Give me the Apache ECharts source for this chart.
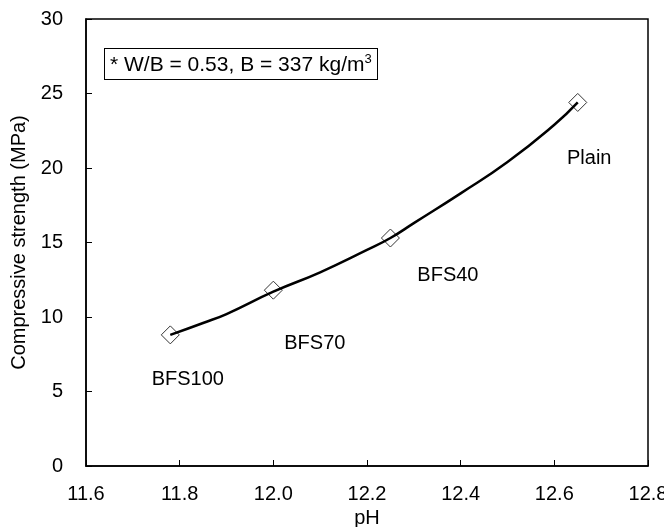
<!DOCTYPE html>
<html>
<head>
<meta charset="utf-8">
<script src="https://cdn.jsdelivr.net/npm/echarts@6/dist/echarts.min.js"></script>
<style>
  html, body { margin: 0; padding: 0; background: #fff; }
  #main { width: 664px; height: 527px; }
</style>
</head>
<body>
<div id="main"></div>
<script>
// measured mixes
var mixNames = ['BFS100', 'BFS70', 'BFS40', 'Plain'];
var mixPH = [11.78, 12.00, 12.25, 12.65];
var mixStrength = [8.8, 11.8, 15.3, 24.4];

// fitted curve
var curvePH = [11.78, 11.85, 11.90, 12.00, 12.10, 12.20, 12.25, 12.30, 12.40, 12.50, 12.60, 12.65];
var curveStrength = [8.8, 9.6, 10.2, 11.7, 13.0, 14.5, 15.3, 16.3, 18.3, 20.4, 22.9, 24.4];

var xTicks = [11.6, 12.8, 0.2];
var yTicks = [0, 30, 5];

var font = 'Liberation Sans, Arial, sans-serif';

// where each label sits relative to its point
var labelOffset = {
    'BFS100': [18, 45],
    'BFS70': [42, 54],
    'BFS40': [58, 38],
    'Plain': [12, 57]
};

var myChart = echarts.init(document.getElementById('main'));

var pointData = mixNames.map(function (n, i) {
    return {
        name: n,
        value: [mixPH[i], mixStrength[i]],
        label: { offset: labelOffset[n] }
    };
});
var curveData = curvePH.map(function (p, i) { return [p, curveStrength[i]]; });

option = {
    animation: false,
    textStyle: { fontFamily: font },
    grid: {
        left: 86, right: 16, top: 19, bottom: 61,
        outerBoundsMode: 'none',
        containLabel: false,
        show: true,
        borderColor: '#000',
        borderWidth: 1.5
    },
    xAxis: {
        type: 'value',
        min: xTicks[0],
        max: xTicks[1],
        interval: xTicks[2],
        name: 'pH',
        nameLocation: 'middle',
        nameGap: 41,
        nameTextStyle: { color: '#000', fontSize: 20, fontFamily: font },
        axisLine: { lineStyle: { color: '#000', width: 1.5 } },
        axisTick: { inside: true, length: 6, lineStyle: { color: '#000' } },
        axisLabel: {
            color: '#000', fontSize: 20, fontFamily: font, margin: 18,
            formatter: function (v) { return v.toFixed(1); }
        },
        splitLine: { show: false }
    },
    yAxis: {
        type: 'value',
        min: yTicks[0],
        max: yTicks[1],
        interval: yTicks[2],
        name: 'Compressive strength (MPa)',
        nameLocation: 'middle',
        nameGap: 57,
        nameTextStyle: { color: '#000', fontSize: 20, fontFamily: font },
        axisLine: { lineStyle: { color: '#000', width: 1.5 } },
        axisTick: { inside: true, length: 6, lineStyle: { color: '#000' } },
        axisLabel: { color: '#000', fontSize: 20, fontFamily: font, margin: 23 },
        splitLine: { show: false }
    },
    graphic: [{
        type: 'text',
        left: 104,
        top: 48,
        z: 10,
        style: {
            text: '{t|* W/B = 0.53, B = 337 kg/m}{s|3}',
            rich: {
                t: { fontSize: 21, fontFamily: font, fill: '#000', verticalAlign: 'bottom' },
                s: { fontSize: 13, fontFamily: font, fill: '#000', verticalAlign: 'top', padding: [0, 0, 10, 0] }
            },
            width: 262,
            padding: [4, 5, 3, 5],
            backgroundColor: '#fff',
            borderColor: '#000',
            borderWidth: 1
        }
    }],
    series: [
        {
            name: 'fit',
            type: 'line',
            data: curveData,
            smooth: true,
            showSymbol: false,
            lineStyle: { color: '#000', width: 2.5 },
            z: 3
        },
        {
            name: 'mix',
            type: 'scatter',
            data: pointData,
            symbol: 'diamond',
            symbolSize: [18, 18],
            itemStyle: { color: 'rgba(0,0,0,0)', borderColor: '#333', borderWidth: 1, opacity: 1 },
            label: {
                show: true,
                position: [9, 9],
                align: 'center',
                verticalAlign: 'middle',
                formatter: '{b}',
                color: '#000',
                opacity: 1,
                textBorderWidth: 0,
                fontSize: 20,
                fontFamily: font
            },
            z: 2
        }
    ]
};

myChart.setOption(option);
</script>
</body>
</html>
